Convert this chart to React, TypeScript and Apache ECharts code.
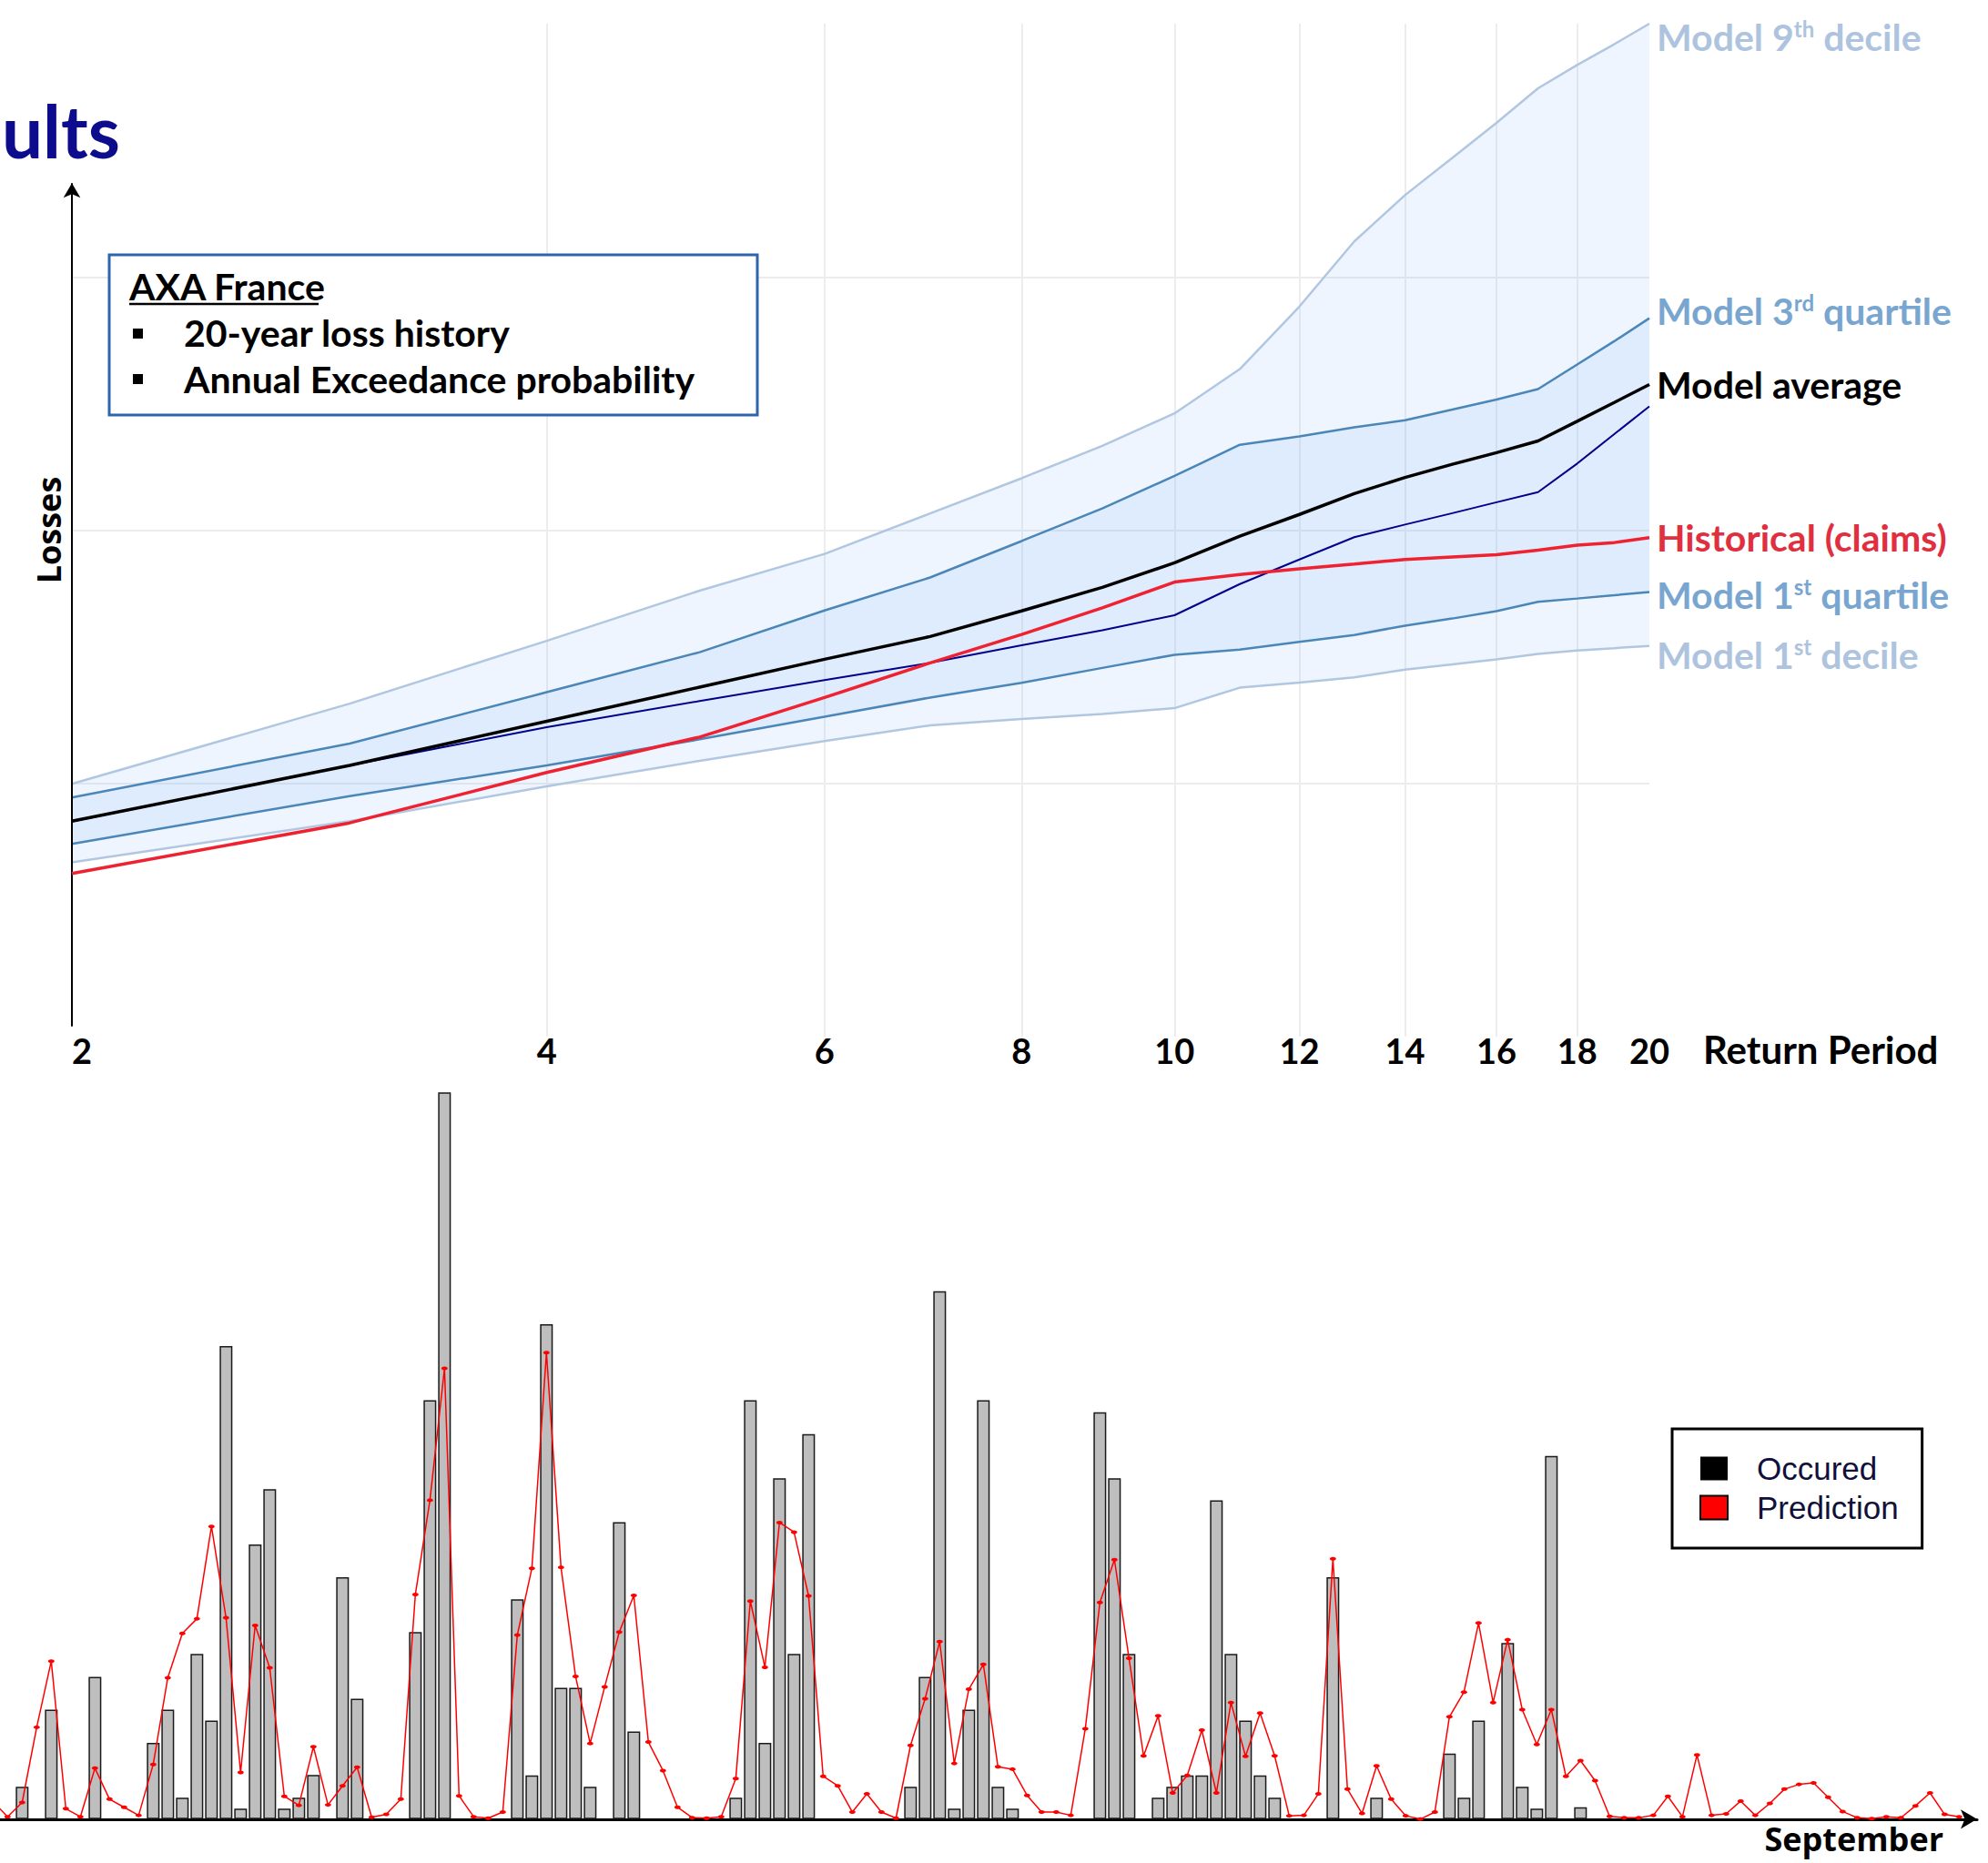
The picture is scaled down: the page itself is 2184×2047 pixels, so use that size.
import React, { useEffect, useRef } from "react";
import * as echarts from "echarts";

// ---------- Top chart: losses vs return period ----------
const returnPeriods = [2, 3, 4, 5, 6, 7, 8, 9, 10, 11, 12, 13, 14, 15, 16, 17, 18, 19, 20];
const modelDecile9 = [99.8, 131.5, 156.3, 176.1, 190.6, 206.6, 220.5, 233.3, 246.1, 263.6, 288.3, 314.0, 332.3, 347.0, 360.8, 374.5, 383.7, 391.9, 400.0];
const modelQuartile3 = [94.4, 115.7, 136.0, 151.8, 168.3, 181.3, 195.7, 208.6, 221.4, 233.7, 237.0, 240.6, 243.4, 247.6, 251.6, 255.7, 265.4, 274.6, 283.7];
const modelAverage = [85.1, 107.1, 124.5, 138.0, 149.0, 158.0, 168.1, 177.4, 187.1, 197.6, 206.2, 214.4, 220.8, 226.0, 230.6, 235.2, 243.0, 250.4, 257.5];
const modelMedian = [85.0, 107.1, 122.2, 132.5, 140.8, 147.6, 154.5, 160.5, 166.4, 178.7, 188.4, 197.2, 202.2, 206.7, 211.0, 215.0, 226.3, 237.9, 248.9];
const historicalClaims = [64.4, 84.4, 104.3, 118.3, 133.9, 147.6, 158.8, 169.3, 179.5, 182.5, 184.7, 186.6, 188.4, 189.4, 190.3, 192.1, 194.1, 195.1, 197.0];
const modelQuartile1 = [76.1, 95.0, 107.1, 117.4, 126.3, 133.9, 139.7, 145.6, 150.8, 152.8, 155.9, 158.6, 162.3, 165.1, 168.0, 171.7, 173.0, 174.3, 175.6];
const modelDecile1 = [68.8, 85.1, 98.8, 108.9, 116.7, 122.9, 125.4, 127.4, 129.7, 137.8, 139.8, 141.9, 144.9, 147.0, 149.0, 151.1, 152.5, 153.4, 154.3];
const xTickLabels = [2, 4, 6, 8, 10, 12, 14, 16, 18, 20];
const xGridValues = [4, 6, 8, 10, 12, 14, 16, 18];
const yArrowRange = [4, 337];

// ---------- Bottom chart: occurred vs predicted (one value per day) ----------
const occurred = [
  68, null, 68, null, 230, null, null, 299, null, null,
  null, 160, 230, 45, 347, 207, 994, 22, 577, 693,
  22, 45, 93, null, 508, 253, null, null, null, 393,
  880, 1527, null, null, null, null, 462, 92, 1040, 276,
  276, 68, null, 624, 184, null, null, null, null, null,
  null, 45, 880, 160, 716, 347, 809, null, null, null,
  null, null, null, 68, 299, 1109, 22, 230, 880, 68,
  22, null, null, null, null, null, 855, 716, 347, null,
  45, 68, 92, 92, 670, 347, 207, 92, 45, null,
  null, null, 508, null, null, 45, null, null, null, null,
  138, 45, 207, null, 370, 68, 22, 763, null, 25,
  null, null, null, null, null, null, null, null, null, null,
  null, null, null, null, null, null, null, null, null, null,
  null, null, null, null, null, null,
];
const predicted = [
  37, 5, 35, 193, 332, 22, 5, 107, 42, 25,
  8, 115, 297, 390, 421, 615, 423, 98, 407, 318,
  48, 29, 152, 30, 70, 109, 4, 10, 42, 472,
  670, 947, 49, 5, 2, 15, 387, 527, 980, 529,
  300, 159, 278, 393, 470, 162, 102, 25, 3, 2,
  5, 85, 458, 319, 623, 603, 469, 90, 70, 15,
  53, 15, 2, 155, 253, 373, 117, 273, 325, 110,
  105, 50, 15, 15, 8, 190, 455, 545, 338, 133,
  217, 55, 92, 187, 55, 245, 132, 223, 133, 7,
  8, 53, 547, 63, 12, 112, 42, 7, 0, 15,
  215, 267, 412, 245, 377, 230, 157, 230, 90, 123,
  81, 6, 3, 3, 8, 48, 5, 135, 8, 11,
  38, 8, 33, 63, 73, 76, 46, 16, 3, 1,
  5, 3, 28, 55, 10, 5,
];
const dayRange = [0.48, 136.23];

const LATO = "Lato";
const DECILE_LINE = "#b1c7e1";
const DECILE_TEXT = "#aec4de";
const QUART_LINE = "#4a86b8";
const QUART_TEXT = "#78a6d0";
const RED_LINE = "#ee2230";
const RED_TEXT = "#e0303f";
const BAND_FILL = "rgba(120,180,245,0.13)";

const lg = (v: number) => Math.log10(v);
const pts = (arr: number[]) => returnPeriods.map((p, i) => [lg(p), arr[i]]);

function endLbl(parts: [string, string, string] | string, color: string, offsetY: number) {
  const rich = {
    a: { fontFamily: LATO, fontWeight: "bold", fontSize: 41, color },
    s: { fontFamily: LATO, fontWeight: "bold", fontSize: 24, color, padding: [0, 0, 18, 0] },
  };
  const formatter =
    typeof parts === "string"
      ? `{a|${parts}}`
      : `{a|${parts[0]}}{s|${parts[1]}}{a|${parts[2]}}`;
  return { show: true, formatter, rich, distance: 8, offset: [0, offsetY] };
}

function lineSeries(name: string, arr: number[], color: string, width: number, z: number, endLabel?: any, extra?: any) {
  return {
    type: "line",
    name,
    xAxisIndex: 0,
    yAxisIndex: 0,
    data: pts(arr),
    symbol: "none",
    showSymbol: false,
    clip: false,
    silent: true,
    z,
    lineStyle: { color, width },
    itemStyle: { color },
    endLabel,
    ...(extra || {}),
  };
}

const textStyleBase = {
  fontFamily: LATO,
  fontWeight: "bold",
  fontSize: 41,
  fill: "#000",
  verticalAlign: "middle",
  textVerticalAlign: "middle",
};

export default function App() {
  const ref = useRef<HTMLDivElement>(null);

  useEffect(() => {
    if (!ref.current) return;
    const chart = echarts.init(ref.current, undefined, { renderer: "svg" });

    const barData = occurred
      .map((v, i) => (v == null ? null : [i, v]))
      .filter((d) => d !== null);
    const lineData = predicted.map((v, i) => [i, v]);

    const option: any = {
      animation: false,
      backgroundColor: "#ffffff",
      grid: [
        { left: 79, top: 26, width: 1733, height: 1113 },
        { left: 0, top: 1162, width: 2172, height: 836.8 },
      ],
      legend: {
        show: true,
        orient: "vertical",
        left: 1837,
        top: 1570,
        padding: [26, 26, 27, 30],
        itemGap: 8,
        itemWidth: 30,
        itemHeight: 26,
        borderColor: "#000",
        borderWidth: 3,
        selectedMode: false,
        textStyle: { fontFamily: "Liberation Sans", fontSize: 35, color: "#10103a", padding: [0, 0, 0, 27] },
        data: [
          { name: "Occured", icon: "rect", itemStyle: { color: "#000", borderWidth: 0 } },
          { name: "Prediction", icon: "rect", itemStyle: { color: "#ff0000", borderColor: "#000", borderWidth: 2 } },
        ],
      },
      xAxis: [
        {
          gridIndex: 0,
          type: "value",
          min: lg(2),
          max: lg(20),
          axisLine: { show: false },
          axisTick: { show: false, customValues: xGridValues.map(lg) },
          axisLabel: {
            customValues: xTickLabels.map(lg),
            formatter: (v: number) => String(Math.round(Math.pow(10, v))),
            fontFamily: LATO,
            fontWeight: "bold",
            fontSize: 38,
            color: "#000",
            margin: -4,
            alignMinLabel: "left",
          },
          splitLine: { show: true, lineStyle: { color: "#ededed", width: 2 } },
        },
        {
          gridIndex: 1,
          type: "value",
          min: dayRange[0],
          max: dayRange[1],
          axisLine: {
            show: true,
            onZero: false,
            lineStyle: { color: "#000", width: 3 },
            symbol: ["none", "arrow"],
            symbolSize: [16, 18],
          },
          axisTick: { show: false },
          axisLabel: { show: false },
          splitLine: { show: false },
        },
      ],
      yAxis: [
        {
          gridIndex: 0,
          type: "value",
          min: 0,
          max: 400,
          interval: 100,
          axisLine: { show: false },
          axisTick: { show: false },
          axisLabel: { show: false },
          splitLine: {
            show: true,
            showMinLine: false,
            showMaxLine: false,
            lineStyle: { color: "#ececec", width: 2 },
          },
          name: "Losses",
          nameLocation: "middle",
          nameGap: 8,
          nameTextStyle: { fontFamily: "Open Sans", fontWeight: "bold", fontSize: 36, color: "#000" },
        },
        {
          gridIndex: 1,
          type: "value",
          min: 0,
          max: 1600,
          show: false,
          splitLine: { show: false },
        },
      ],
      series: [
        {
          type: "custom",
          name: "bands",
          xAxisIndex: 0,
          yAxisIndex: 0,
          silent: true,
          z: 1,
          data: [[lg(10), 200]],
          renderItem: (_params: any, api: any) => {
            const poly = (hi: number[], lo: number[]) => [
              ...returnPeriods.map((p, i) => api.coord([lg(p), hi[i]])),
              ...returnPeriods.map((p, i) => api.coord([lg(p), lo[i]])).reverse(),
            ];
            return {
              type: "group",
              children: [
                { type: "polygon", shape: { points: poly(modelDecile9, modelDecile1) }, style: { fill: BAND_FILL } },
                { type: "polygon", shape: { points: poly(modelQuartile3, modelQuartile1) }, style: { fill: BAND_FILL } },
              ],
            };
          },
        },
        lineSeries("Model 9th decile", modelDecile9, DECILE_LINE, 2.5, 3, endLbl(["Model 9", "th", " decile"], DECILE_TEXT, 14)),
        lineSeries("Model 1st decile", modelDecile1, DECILE_LINE, 2.5, 3, endLbl(["Model 1", "st", " decile"], DECILE_TEXT, 10)),
        lineSeries("Model 3rd quartile", modelQuartile3, QUART_LINE, 2.5, 4, endLbl(["Model 3", "rd", " quartile"], QUART_TEXT, -8)),
        lineSeries("Model 1st quartile", modelQuartile1, QUART_LINE, 2.5, 4, endLbl(["Model 1", "st", " quartile"], QUART_TEXT, 3)),
        lineSeries("Model median", modelMedian, "#00008b", 2, 5),
        lineSeries("Historical (claims)", historicalClaims, RED_LINE, 3.5, 6, endLbl("Historical (claims)", RED_TEXT, 0)),
        lineSeries("Model average", modelAverage, "#000000", 3.5, 7, endLbl("Model average", "#000000", 0), {
          markLine: {
            silent: true,
            symbol: ["none", "arrow"],
            symbolSize: [14, 16],
            lineStyle: { color: "#000", width: 2, type: "solid" },
            label: { show: false },
            data: [[{ coord: [lg(2), yArrowRange[0]] }, { coord: [lg(2), yArrowRange[1]] }]],
          },
        }),
        {
          type: "bar",
          name: "Occured",
          xAxisIndex: 1,
          yAxisIndex: 1,
          data: barData,
          barWidth: 14,
          silent: true,
          z: 2,
          itemStyle: { color: "#bebebe", borderColor: "#1a1a1a", borderWidth: 1.5 },
        },
        {
          type: "line",
          name: "Prediction",
          xAxisIndex: 1,
          yAxisIndex: 1,
          data: lineData,
          symbol: "circle",
          symbolSize: [7, 4],
          showSymbol: true,
          showAllSymbol: true,
          silent: true,
          z: 3,
          lineStyle: { color: "#ff0000", width: 1.5 },
          itemStyle: { color: "#ff0000" },
        },
      ],
      graphic: [
        {
          type: "text",
          x: 2,
          y: 143,
          z: 100,
          style: {
            text: "ults",
            fontFamily: LATO,
            fontWeight: "bold",
            fontSize: 80,
            fill: "#0c0c8c",
            verticalAlign: "middle",
            textVerticalAlign: "middle",
          },
        },
        {
          type: "rect",
          z: 100,
          shape: { x: 120, y: 280, width: 712, height: 176 },
          style: { fill: "#ffffff", stroke: "#2e64aa", lineWidth: 3 },
        },
        { type: "text", x: 142, y: 314, z: 101, style: { ...textStyleBase, text: "AXA France" } },
        {
          type: "line",
          z: 101,
          shape: { x1: 142, y1: 334, x2: 350, y2: 334 },
          style: { stroke: "#000", lineWidth: 2.5 },
        },
        { type: "rect", z: 101, shape: { x: 146, y: 361, width: 11, height: 11 }, style: { fill: "#000" } },
        { type: "rect", z: 101, shape: { x: 146, y: 411, width: 11, height: 11 }, style: { fill: "#000" } },
        { type: "text", x: 202, y: 365, z: 101, style: { ...textStyleBase, text: "20-year loss history" } },
        { type: "text", x: 202, y: 416, z: 101, style: { ...textStyleBase, text: "Annual Exceedance probability" } },
        {
          type: "text",
          x: 1871,
          y: 1153,
          z: 100,
          style: { ...textStyleBase, fontSize: 42, text: "Return Period" },
        },
        {
          type: "text",
          x: 2135,
          y: 2020,
          z: 100,
          style: {
            text: "September",
            fontFamily: "Open Sans",
            fontWeight: "bold",
            fontSize: 36,
            fill: "#000",
            align: "right",
            textAlign: "right",
            verticalAlign: "middle",
            textVerticalAlign: "middle",
          },
        },
      ],
    };

    chart.setOption(option);
    return () => chart.dispose();
  }, []);

  return (
    <div
      ref={ref}
      style={{ position: "absolute", left: 0, top: 0, width: 2184, height: 2047, background: "#fff" }}
    />
  );
}
